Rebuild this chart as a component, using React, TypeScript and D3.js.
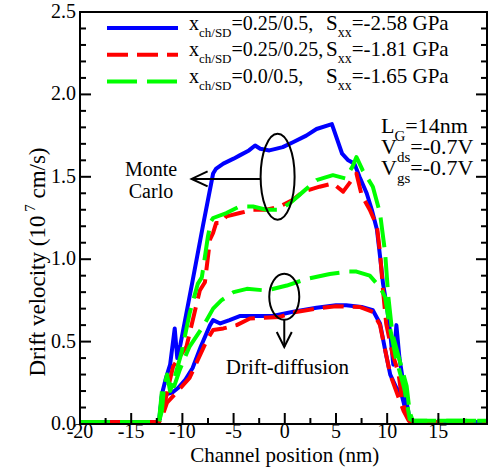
import React from "react";
import * as d3 from "d3";

// channel position (nm) / drift velocity (1e7 cm/s)
const mcBlueX = [-20, -16, -12.4, -12.2, -12.0, -11.6, -11.2, -10.75, -10.5, -10.2, -9.0, -8.0, -7.0, -6.7, -6.0, -5.0, -4.4, -3.5, -2.9, -2.4, -1.5, -0.2, 0.8, 2.1, 3.1, 4.6, 5.6, 6.2, 6.8, 7.3, 8.0, 8.5, 9.0, 9.3, 9.6, 10.0, 10.3, 10.6, 10.9, 11.2, 11.7, 12.2, 12.5, 16, 19.75];
const mcBlueY = [0.01, 0.01, 0.01, 0.03, 0.18, 0.28, 0.36, 0.58, 0.4, 0.48, 0.87, 1.2, 1.52, 1.55, 1.58, 1.61, 1.63, 1.66, 1.69, 1.67, 1.66, 1.68, 1.71, 1.75, 1.79, 1.82, 1.64, 1.6, 1.58, 1.5, 1.4, 1.3, 1.18, 1.02, 0.85, 0.7, 0.55, 0.36, 0.6, 0.4, 0.2, 0.03, 0.01, 0.01, 0.01];

const ddBlueX = [-20, -16, -12.3, -12.0, -11.6, -11.0, -10.4, -9.7, -9.0, -8.2, -7.3, -7.0, -6.3, -5.4, -4.4, -3.0, -1.2, 0, 1.1, 3.1, 5.0, 6.0, 7.5, 8.6, 9.3, 9.8, 10.3, 10.9, 11.4, 11.9, 12.3, 16, 19.75];
const ddBlueY = [0.01, 0.01, 0.01, 0.17, 0.18, 0.19, 0.22, 0.27, 0.34, 0.47, 0.6, 0.63, 0.61, 0.63, 0.655, 0.655, 0.655, 0.67, 0.685, 0.705, 0.72, 0.72, 0.71, 0.69, 0.61, 0.45, 0.3, 0.22, 0.18, 0.06, 0.01, 0.01, 0.01];

const mcRedX = [-20, -16, -12.3, -11.9, -11.4, -10.9, -9.6, -8.3, -7.8, -7.3, -7.0, -6.7, -6.2, -5.7, -4.4, -3.1, -1.8, -0.5, 0.8, 1.8, 3.4, 4.7, 5.7, 6.3, 7.0, 7.5, 8.3, 9.0, 9.3, 9.6, 9.9, 10.5, 11.1, 11.5, 12.0, 12.3, 16, 19.75];
const mcRedY = [0.01, 0.01, 0.01, 0.07, 0.22, 0.35, 0.47, 0.81, 0.86, 1.12, 1.16, 1.22, 1.22, 1.26, 1.28, 1.3, 1.3, 1.32, 1.36, 1.41, 1.44, 1.46, 1.41, 1.46, 1.52, 1.39, 1.3, 1.2, 1.04, 0.81, 0.61, 0.43, 0.31, 0.13, 0.04, 0.01, 0.01, 0.01];

const ddRedX = [-20, -16, -12.3, -12.0, -11.5, -10.6, -9.3, -7.6, -7.0, -6.0, -4.7, -3.4, -0.5, 1.1, 3.1, 5.0, 7.3, 8.6, 9.3, 9.8, 10.3, 11.0, 11.6, 12.1, 12.4, 16, 19.75];
const ddRedY = [0.01, 0.01, 0.01, 0.04, 0.13, 0.19, 0.28, 0.51, 0.57, 0.58, 0.6, 0.64, 0.65, 0.68, 0.7, 0.715, 0.71, 0.68, 0.6, 0.45, 0.3, 0.18, 0.08, 0.02, 0.01, 0.01, 0.01];

const mcGreenX = [-20, -16, -12.3, -12.0, -11.8, -11.5, -11.2, -10.9, -10.1, -9.3, -8.5, -8.1, -7.5, -7.2, -7.0, -5.7, -4.4, -3.1, -1.8, -0.5, 0.5, 1.8, 3.1, 4.7, 5.9, 6.6, 7.0, 7.6, 8.6, 9.3, 9.8, 10.1, 10.5, 11.2, 11.9, 12.2, 12.5, 16, 19.75];
const mcGreenY = [0.01, 0.01, 0.01, 0.08, 0.22, 0.3, 0.2, 0.25, 0.43, 0.67, 0.85, 0.89, 1.14, 1.23, 1.25, 1.28, 1.32, 1.32, 1.3, 1.3, 1.34, 1.41, 1.48, 1.51, 1.49, 1.56, 1.62, 1.54, 1.44, 1.28, 1.04, 0.78, 0.55, 0.39, 0.23, 0.07, 0.02, 0.02, 0.02];

const ddGreenX = [-20, -16, -12.3, -12.0, -11.5, -10.8, -10.25, -9.3, -8.0, -7.0, -6.2, -5.0, -3.7, -1.8, 0.2, 2.1, 4.4, 6.3, 7.0, 8.3, 9.3, 9.8, 10.25, 10.9, 11.7, 12.2, 12.5, 16, 19.75];
const ddGreenY = [0.01, 0.01, 0.01, 0.2, 0.25, 0.23, 0.33, 0.47, 0.59, 0.7, 0.75, 0.8, 0.82, 0.81, 0.84, 0.88, 0.91, 0.925, 0.925, 0.9, 0.83, 0.77, 0.59, 0.39, 0.21, 0.03, 0.02, 0.02, 0.02];

const xTicks = [-20, -15, -10, -5, 0, 5, 10, 15];
const yTicks = [0, 0.5, 1.0, 1.5, 2.0, 2.5];

const legendMain = ["=0.25/0.5,", "=0.25/0.25,", "=0.0/0.5,"];
const legendStress = ["=-2.58 GPa", "=-1.81 GPa", "=-1.65 GPa"];

const font = "'Liberation Serif', 'Times New Roman', serif";

export default function App() {
  const width = 493,
    height = 470,
    left = 80,
    right = 487,
    top = 12,
    bottom = 424;

  const x = d3.scaleLinear().domain([-20, 19.75]).range([left, right]);
  const y = d3.scaleLinear().domain([0, 2.5]).range([bottom, top]);

  const line = d3
    .line<[number, number]>()
    .x((d) => x(d[0]))
    .y((d) => y(d[1]));

  const zip = (xs: number[], ys: number[]) =>
    xs.map((v, i) => [v, ys[i]] as [number, number]);

  const blue = "#0000ff",
    red = "#ff0000",
    green = "#00ff00";
  const redDash = "21 9",
    greenDash = "30 10";

  // drawing order as in the original: blue, red, green on top
  const series = [
    { d: zip(mcBlueX, mcBlueY), c: blue, dash: undefined },
    { d: zip(ddBlueX, ddBlueY), c: blue, dash: undefined },
    { d: zip(mcRedX, mcRedY), c: red, dash: redDash },
    { d: zip(ddRedX, ddRedY), c: red, dash: redDash },
    { d: zip(mcGreenX, mcGreenY), c: green, dash: greenDash },
    { d: zip(ddGreenX, ddGreenY), c: green, dash: greenDash },
  ];

  const xMinor = d3.range(-17.5, 19.75, 5);
  const yMinor = d3
    .range(0.1, 2.5, 0.1)
    .filter((v) => Math.abs(v * 2 - Math.round(v * 2)) > 0.01);

  const legendColors = [blue, red, green];
  const legendDash = [undefined, redDash, greenDash];

  return (
    <div style={{ position: "absolute", left: 0, top: 0 }}>
      <svg width={width} height={height} style={{ display: "block", background: "#fff" }} fontFamily={font}>
        {series.map((s, i) => (
          <path
            key={"s" + i}
            d={line(s.d) || ""}
            fill="none"
            stroke={s.c}
            strokeWidth={4}
            strokeDasharray={s.dash}
            strokeLinejoin="round"
          />
        ))}

        {/* axes frame and ticks */}
        <rect x={left} y={top} width={right - left} height={bottom - top} fill="none" stroke="#000" strokeWidth={2} />
        <g stroke="#000" strokeWidth={2}>
          {xTicks.map((t) => (
            <line key={"xt" + t} x1={x(t)} x2={x(t)} y1={bottom} y2={bottom - 11} />
          ))}
          {xMinor.map((t) => (
            <line key={"xm" + t} x1={x(t)} x2={x(t)} y1={bottom} y2={bottom - 6} />
          ))}
          {yTicks.map((t) => (
            <g key={"yt" + t}>
              <line x1={left} x2={left + 11} y1={y(t)} y2={y(t)} />
              <line x1={right} x2={right - 11} y1={y(t)} y2={y(t)} />
            </g>
          ))}
          {yMinor.map((t) => (
            <g key={"ym" + t.toFixed(1)}>
              <line x1={left} x2={left + 6} y1={y(t)} y2={y(t)} />
              <line x1={right} x2={right - 6} y1={y(t)} y2={y(t)} />
            </g>
          ))}
        </g>
        <g fontSize={20} fill="#000">
          {xTicks.map((t) => (
            <text key={"xl" + t} x={x(t)} y={bottom + 14} textAnchor="middle">
              {String(t)}
            </text>
          ))}
          {yTicks.map((t) => (
            <text key={"yl" + t} x={left - 4} y={y(t) + 6} textAnchor="end">
              {t.toFixed(1)}
            </text>
          ))}
        </g>
        <text x={x(0)} y={462} textAnchor="middle" fontSize={21}>
          Channel position (nm)
        </text>
        <text transform={`translate(45, 262) rotate(-90)`} textAnchor="middle" fontSize={23}>
          Drift velocity (10 
          <tspan dy={-10} fontSize={15}> 7</tspan>
          <tspan dy={10}>  cm/s)</tspan>
        </text>

        {/* legend */}
        {legendMain.map((txt, i) => {
          const ly = 28 + i * 26.7;
          return (
            <g key={"lg" + i}>
              <line
                x1={107}
                x2={178}
                y1={ly}
                y2={ly}
                stroke={legendColors[i]}
                strokeWidth={4}
                strokeDasharray={legendDash[i]}
              />
              <text x={189} y={ly + 1.5} fontSize={20}>
                x<tspan dy={7} fontSize={13}>ch/SD</tspan>
                <tspan dy={-7}>{txt}</tspan>
              </text>
              <text x={326} y={ly + 1.5} fontSize={21}>
                S<tspan dy={7} fontSize={14}>xx</tspan>
                <tspan dy={-7}>{legendStress[i]}</tspan>
              </text>
            </g>
          );
        })}

        {/* device parameters */}
        <g fontSize={22}>
          <text x={381} y={133}>
            L<tspan dy={8} fontSize={15}>G</tspan>
            <tspan dy={-8}>=14nm</tspan>
          </text>
          <text x={381} y={154}>
            V<tspan dy={8} fontSize={15}>ds</tspan>
            <tspan dy={-8}>=-0.7V</tspan>
          </text>
          <text x={381} y={175}>
            V<tspan dy={8} fontSize={15}>gs</tspan>
            <tspan dy={-8}>=-0.7V</tspan>
          </text>
        </g>

        {/* annotations */}
        <g stroke="#000" strokeWidth={2} fill="none">
          <ellipse cx={x(-0.7)} cy={y(1.5)} rx={17} ry={43} />
          <line x1={x(-0.7) - 17} x2={x(-9.1)} y1={y(1.487)} y2={y(1.487)} />
          <polyline
            points={`${x(-9.1) + 16},${y(1.487) - 7.5} ${x(-9.1)},${y(1.487)} ${x(-9.1) + 16},${y(1.487) + 7.5}`}
          />
          <ellipse cx={x(-0.05)} cy={y(0.772)} rx={15} ry={23} />
          <line x1={x(-0.05)} x2={x(-0.05)} y1={y(0.772) + 23} y2={y(0.467)} />
          <polyline
            points={`${x(-0.05) - 7.5},${y(0.467) - 15} ${x(-0.05)},${y(0.467)} ${x(-0.05) + 7.5},${y(0.467) - 15}`}
          />
        </g>
        <g fontSize={20} textAnchor="middle">
          <text x={151} y={176}>Monte</text>
          <text x={151} y={198}>Carlo</text>
        </g>
        <text x={287.5} y={374} fontSize={21} textAnchor="middle">
          Drift-diffusion
        </text>
      </svg>
    </div>
  );
}
